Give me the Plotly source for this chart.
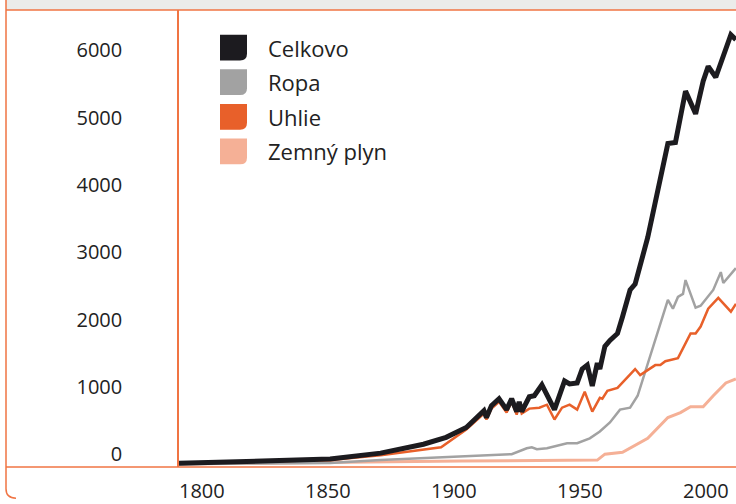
import plotly.graph_objects as go

# ---- data ----
celkovo_years = [1800, 1860, 1880, 1897, 1906, 1914, 1921, 1922, 1924, 1927, 1930, 1932, 1934, 1935, 1936,
                 1939, 1941, 1944, 1949, 1953, 1955, 1958, 1960, 1962, 1964, 1966, 1967, 1969, 1971, 1974,
                 1976, 1979, 1981, 1986, 1994, 1997, 2001, 2005, 2008, 2010, 2013, 2019, 2021]
celkovo_vals = [10, 74, 162, 294, 397, 544, 794, 691, 868, 971, 809, 971, 779, 926, 779,
                1000, 1015, 1176, 809, 1235, 1191, 1206, 1412, 1471, 1162, 1500, 1412, 1750, 1838, 1941,
                2191, 2588, 2676, 3368, 4765, 4779, 5544, 5206, 5691, 5912, 5750, 6382, 6309]

ropa_years = [1800, 1860, 1880, 1908, 1932, 1938, 1940, 1942, 1946, 1954, 1958, 1963, 1967, 1971, 1975,
              1979, 1982, 1994, 1996, 1998, 2000, 2001, 2005, 2007, 2012, 2015, 2016, 2021]
ropa_vals = [0, 15, 59, 103, 147, 235, 250, 221, 235, 309, 309, 382, 485, 618, 809,
             838, 1015, 2441, 2309, 2485, 2529, 2735, 2324, 2353, 2588, 2853, 2691, 2912]

uhlie_years = [1800, 1860, 1880, 1904, 1914, 1921, 1922, 1924, 1927, 1930, 1932, 1934, 1935, 1936, 1939,
               1943, 1946, 1949, 1952, 1955, 1958, 1961, 1964, 1967, 1968, 1970, 1974, 1981, 1983, 1989,
               1991, 1993, 1998, 2003, 2005, 2007, 2010, 2014, 2019, 2021]
uhlie_vals = [8, 59, 132, 250, 515, 750, 662, 824, 926, 765, 926, 735, 882, 750, 824,
              838, 882, 662, 838, 882, 809, 1074, 779, 985, 971, 1088, 1132, 1412, 1324, 1471,
              1471, 1529, 1574, 1941, 1941, 2044, 2309, 2471, 2265, 2382]

plyn_years = [1800, 1860, 1912, 1966, 1969, 1976, 1981, 1986, 1994, 1999, 2003, 2008, 2012, 2017, 2021]
plyn_vals = [0, 29, 44, 59, 147, 176, 279, 382, 691, 765, 853, 853, 1015, 1206, 1265]

series_names = ["Celkovo", "Ropa", "Uhlie", "Zemný plyn"]
series_colors = ["#1c1b1f", "#a2a2a2", "#e8602a", "#f5b096"]

x_ticks = [1800, 1850, 1900, 1950, 2000]
y_ticks = [0, 1000, 2000, 3000, 4000, 5000, 6000]

# ---- layout geometry ----
W, H = 736, 504
L, R, T, B = 179, 0, 10, 32
PW, PH = W - L - R, H - T - B
ORANGE = "#f07443"
FONT = "Open Sans"


def px(x):
    return (x - L) / PW


def py(y):
    return (H - B - y) / PH


fig = go.Figure()

series = [
    (plyn_years, plyn_vals, 3, 3),
    (ropa_years, ropa_vals, 1, 2.5),
    (uhlie_years, uhlie_vals, 2, 2.5),
    (celkovo_years, celkovo_vals, 0, 5),
]
for xs, ys, idx, w in series:
    fig.add_trace(go.Scatter(
        x=xs, y=ys, mode="lines", name=series_names[idx],
        line=dict(color=series_colors[idx], width=w, shape="linear"),
        showlegend=False, hoverinfo="skip",
    ))

shapes = []
# grey strip at top
shapes.append(dict(type="rect", xref="paper", yref="paper", x0=px(6), x1=px(W + 2), y0=py(10), y1=py(-2),
                   fillcolor="#ebecea", line=dict(width=0), layer="above"))
# top orange line
shapes.append(dict(type="line", xref="paper", yref="paper", x0=px(6), x1=px(W + 2), y0=py(10), y1=py(10),
                   line=dict(color=ORANGE, width=1.5)))
# left frame with rounded bottom-left corner
p = f"M {px(6)},{py(-2)} L {px(6)},{py(494)} Q {px(6)},{py(503.5)} {px(16)},{py(503.5)}"
shapes.append(dict(type="path", xref="paper", yref="paper", path=p, line=dict(color=ORANGE, width=1.5)))
# x axis line
shapes.append(dict(type="line", xref="paper", yref="paper", x0=px(6), x1=px(W + 2), y0=py(472), y1=py(472),
                   line=dict(color=ORANGE, width=1.5)))

# custom legend
annotations = []
for i, name in enumerate(series_names):
    cy = 48 + i * 35
    x0, x1, y0, y1, r = 220, 247, cy - 13, cy + 13, 7
    path = (f"M {px(x0)},{py(y0)} L {px(x1)},{py(y0)} L {px(x1)},{py(y1 - r)} "
            f"Q {px(x1)},{py(y1)} {px(x1 - r)},{py(y1)} L {px(x0)},{py(y1)} Z")
    shapes.append(dict(type="path", xref="paper", yref="paper", path=path,
                       fillcolor=series_colors[i], line=dict(width=0)))
    annotations.append(dict(xref="paper", yref="paper", x=px(266), y=py(cy), xanchor="left", yanchor="middle",
                            text=name, showarrow=False, font=dict(family=FONT, size=22, color="#222222")))

fig.update_layout(
    width=W, height=H,
    margin=dict(l=L, r=R, t=T, b=B, pad=0),
    paper_bgcolor="white", plot_bgcolor="white",
    showlegend=False,
    shapes=shapes, annotations=annotations,
    font=dict(family=FONT, size=20, color="#222222"),
    xaxis=dict(range=[1800, 1800 + PW / 2.52], tickvals=x_ticks, ticktext=[str(v) for v in x_ticks],
               showgrid=False, zeroline=False, showline=False, ticks="",
               ticklabelposition="outside right", ticklabelstandoff=10,
               tickfont=dict(family=FONT, size=20, color="#222222")),
    yaxis=dict(range=[-44, (469 - 10) / 0.068], tickvals=y_ticks, ticktext=[str(v) for v in y_ticks],
               showgrid=False, zeroline=False, showline=True, linecolor=ORANGE, linewidth=1.5, ticks="",
               ticklabelposition="outside top", ticklabelstandoff=51, ticklabelshift=4,
               tickfont=dict(family=FONT, size=20, color="#222222")),
)

fig.write_html("out.html", config={"displayModeBar": False},
               post_script="document.body.style.margin='0';document.body.style.overflow='hidden';")
